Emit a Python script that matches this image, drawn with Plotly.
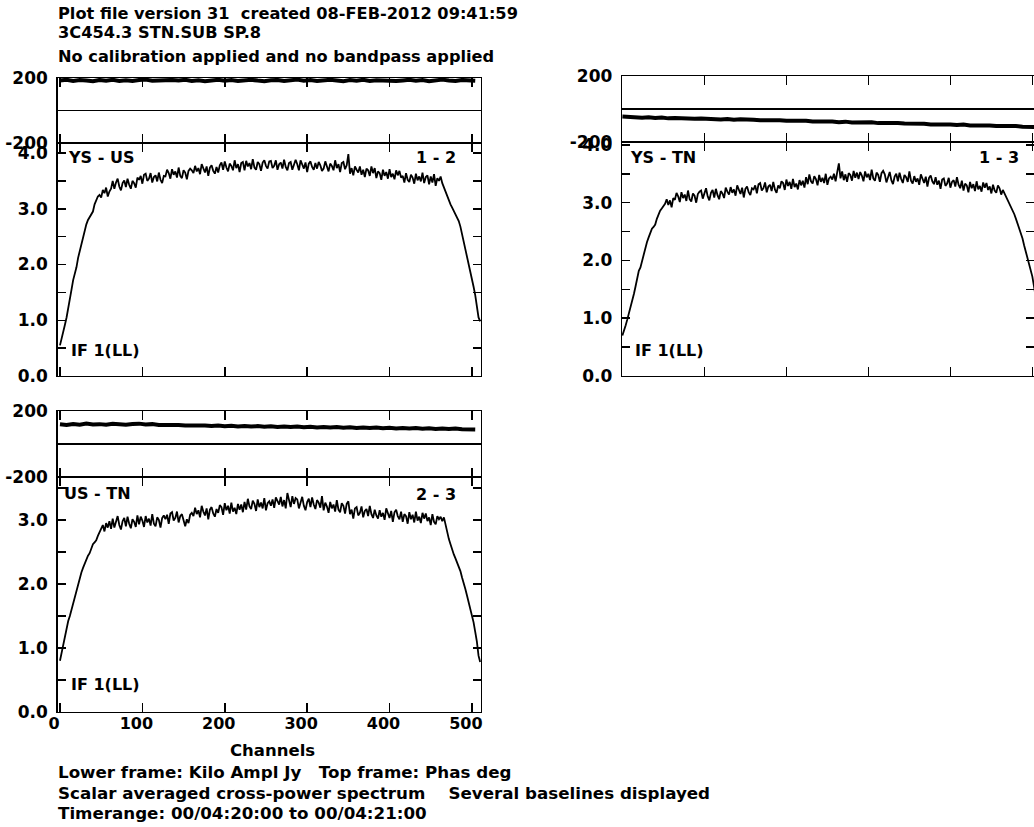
import plotly.graph_objects as go

# ---------------- data ----------------
channels_amp = list(range(0, 512, 2))
channels_ph = list(range(0, 512, 8))
x_tick_vals = [0, 100, 200, 300, 400, 500]

amp_12 = [0.55, 0.66, 0.80, 0.92, 1.05, 1.20, 1.35, 1.55, 1.72, 1.82, 1.95, 2.12, 2.25, 2.38, 2.50, 2.62,
          2.72, 2.80, 2.85, 2.92, 2.95, 3.08, 3.15, 3.22, 3.25, 3.20, 3.34, 3.28, 3.38, 3.22, 3.31, 3.36,
          3.50, 3.36, 3.47, 3.54, 3.40, 3.33, 3.46, 3.51, 3.39, 3.54, 3.43, 3.36, 3.50, 3.46, 3.38, 3.56,
          3.52, 3.59, 3.45, 3.61, 3.63, 3.50, 3.54, 3.64, 3.47, 3.57, 3.60, 3.49, 3.65, 3.52, 3.46, 3.59,
          3.58, 3.70, 3.64, 3.54, 3.71, 3.61, 3.67, 3.56, 3.74, 3.59, 3.55, 3.69, 3.65, 3.53, 3.68, 3.72,
          3.69, 3.64, 3.77, 3.67, 3.73, 3.62, 3.80, 3.71, 3.65, 3.76, 3.59, 3.74, 3.78, 3.68, 3.63, 3.75,
          3.65, 3.78, 3.83, 3.70, 3.85, 3.74, 3.67, 3.81, 3.77, 3.69, 3.87, 3.73, 3.80, 3.66, 3.82, 3.84,
          3.69, 3.86, 3.76, 3.82, 3.71, 3.89, 3.74, 3.70, 3.84, 3.80, 3.68, 3.83, 3.87, 3.77, 3.72, 3.85,
          3.86, 3.73, 3.77, 3.87, 3.70, 3.80, 3.83, 3.72, 3.88, 3.75, 3.69, 3.82, 3.84, 3.70, 3.81, 3.88,
          3.80, 3.69, 3.87, 3.78, 3.72, 3.83, 3.66, 3.81, 3.85, 3.75, 3.70, 3.82, 3.72, 3.84, 3.78, 3.68,
          3.72, 3.85, 3.74, 3.67, 3.81, 3.77, 3.69, 3.87, 3.73, 3.80, 3.66, 3.82, 3.84, 3.71, 3.78, 3.98,
          3.63, 3.73, 3.60, 3.76, 3.70, 3.65, 3.76, 3.61, 3.70, 3.57, 3.72, 3.69, 3.59, 3.76, 3.64, 3.73,
          3.55, 3.67, 3.64, 3.52, 3.70, 3.59, 3.66, 3.54, 3.71, 3.57, 3.63, 3.53, 3.69, 3.60, 3.68, 3.56,
          3.59, 3.47, 3.64, 3.52, 3.48, 3.61, 3.56, 3.45, 3.63, 3.51, 3.58, 3.49, 3.65, 3.46, 3.57, 3.60,
          3.44, 3.58, 3.47, 3.62, 3.41, 3.55, 3.50, 3.58, 3.46, 3.38, 3.30, 3.22, 3.15, 3.08, 3.02, 2.96,
          2.90, 2.84, 2.78, 2.68, 2.55, 2.42, 2.30, 2.15, 2.00, 1.88, 1.75, 1.60, 1.45, 1.25, 1.05, 0.98]

amp_13 = [0.70, 0.78, 0.88, 0.98, 1.08, 1.18, 1.30, 1.42, 1.55, 1.70, 1.82, 1.88, 2.00, 2.12, 2.25, 2.32,
          2.40, 2.48, 2.55, 2.58, 2.62, 2.72, 2.80, 2.86, 2.90, 2.94, 2.98, 3.06, 2.96, 3.04, 2.92, 3.08,
          3.05, 3.17, 3.11, 3.01, 3.18, 3.08, 3.14, 3.03, 3.21, 3.06, 3.02, 3.16, 3.12, 3.00, 3.15, 3.19,
          3.21, 3.07, 3.18, 3.25, 3.11, 3.04, 3.17, 3.22, 3.09, 3.24, 3.13, 3.06, 3.20, 3.16, 3.08, 3.26,
          3.19, 3.14, 3.27, 3.17, 3.23, 3.12, 3.30, 3.21, 3.15, 3.26, 3.09, 3.24, 3.28, 3.18, 3.13, 3.25,
          3.23, 3.30, 3.16, 3.32, 3.34, 3.21, 3.25, 3.35, 3.18, 3.28, 3.31, 3.20, 3.36, 3.23, 3.17, 3.30,
          3.25, 3.37, 3.34, 3.22, 3.40, 3.29, 3.36, 3.24, 3.41, 3.27, 3.33, 3.23, 3.39, 3.30, 3.38, 3.26,
          3.44, 3.32, 3.49, 3.37, 3.33, 3.46, 3.41, 3.30, 3.48, 3.36, 3.43, 3.34, 3.50, 3.31, 3.42, 3.45,
          3.40, 3.50, 3.37, 3.53, 3.68, 3.42, 3.54, 3.39, 3.49, 3.36, 3.51, 3.48, 3.38, 3.55, 3.43, 3.52,
          3.41, 3.53, 3.47, 3.37, 3.54, 3.44, 3.50, 3.39, 3.57, 3.42, 3.38, 3.52, 3.48, 3.36, 3.51, 3.55,
          3.49, 3.35, 3.46, 3.53, 3.39, 3.32, 3.45, 3.50, 3.37, 3.52, 3.41, 3.34, 3.48, 3.44, 3.36, 3.54,
          3.38, 3.33, 3.46, 3.36, 3.42, 3.31, 3.49, 3.40, 3.34, 3.45, 3.28, 3.43, 3.47, 3.37, 3.32, 3.44,
          3.31, 3.38, 3.24, 3.40, 3.42, 3.29, 3.33, 3.43, 3.26, 3.36, 3.39, 3.28, 3.44, 3.31, 3.25, 3.38,
          3.21, 3.33, 3.30, 3.18, 3.36, 3.25, 3.32, 3.20, 3.37, 3.23, 3.29, 3.19, 3.35, 3.26, 3.34, 3.22,
          3.28, 3.16, 3.31, 3.21, 3.17, 3.30, 3.25, 3.14, 3.22, 3.16, 3.10, 3.05, 3.00, 2.94, 2.88, 2.80,
          2.72, 2.64, 2.55, 2.46, 2.38, 2.26, 2.15, 2.05, 1.95, 1.84, 1.72, 1.55, 1.35, 1.15, 0.95, 0.85]

amp_23 = [0.80, 0.92, 1.05, 1.20, 1.33, 1.42, 1.50, 1.60, 1.70, 1.82, 1.92, 2.02, 2.10, 2.18, 2.25, 2.32,
          2.40, 2.44, 2.48, 2.55, 2.62, 2.65, 2.68, 2.75, 2.80, 2.86, 2.92, 2.82, 2.95, 2.88, 2.98, 2.86,
          3.02, 2.88, 2.99, 3.06, 2.92, 2.85, 2.98, 3.03, 2.90, 3.05, 2.94, 2.87, 3.01, 2.97, 2.89, 3.07,
          2.93, 3.05, 2.99, 2.89, 3.06, 2.96, 3.02, 2.91, 3.09, 2.94, 2.90, 3.04, 3.00, 2.88, 3.03, 3.07,
          3.01, 3.08, 2.94, 3.10, 3.12, 2.99, 3.03, 3.13, 2.96, 3.06, 3.09, 2.98, 2.90, 3.01, 2.95, 3.08,
          3.11, 3.06, 3.19, 3.09, 3.15, 3.04, 3.22, 3.13, 3.07, 3.18, 3.01, 3.16, 3.20, 3.10, 3.05, 3.17,
          3.11, 3.23, 3.20, 3.08, 3.26, 3.15, 3.22, 3.10, 3.27, 3.13, 3.19, 3.09, 3.25, 3.16, 3.24, 3.12,
          3.28, 3.16, 3.33, 3.21, 3.17, 3.30, 3.25, 3.14, 3.32, 3.20, 3.27, 3.18, 3.34, 3.15, 3.26, 3.29,
          3.22, 3.32, 3.19, 3.35, 3.29, 3.24, 3.36, 3.21, 3.31, 3.18, 3.42, 3.30, 3.20, 3.37, 3.25, 3.34,
          3.32, 3.18, 3.29, 3.36, 3.22, 3.15, 3.28, 3.33, 3.20, 3.35, 3.24, 3.17, 3.31, 3.27, 3.19, 3.37,
          3.15, 3.27, 3.21, 3.11, 3.28, 3.18, 3.24, 3.13, 3.31, 3.16, 3.12, 3.26, 3.22, 3.10, 3.25, 3.29,
          3.09, 3.16, 3.02, 3.18, 3.20, 3.07, 3.11, 3.21, 3.04, 3.14, 3.17, 3.06, 3.22, 3.09, 3.03, 3.16,
          3.07, 3.02, 3.15, 3.05, 3.11, 3.00, 3.18, 3.09, 3.03, 3.14, 2.97, 3.12, 3.16, 3.06, 3.01, 3.13,
          2.97, 3.09, 3.06, 2.94, 3.12, 3.01, 3.08, 2.96, 3.13, 2.99, 3.05, 2.95, 3.11, 3.02, 3.10, 2.98,
          3.04, 2.92, 3.09, 2.97, 2.93, 3.06, 3.01, 3.05, 2.98, 3.04, 2.92, 2.80, 2.70, 2.62, 2.52, 2.46,
          2.40, 2.34, 2.28, 2.20, 2.10, 2.02, 1.92, 1.82, 1.72, 1.62, 1.50, 1.40, 1.25, 1.10, 0.88, 0.78]

ph_12 = [186, 190, 183, 188, 185, 181, 189, 184, 190, 183, 187, 182, 188, 191, 184, 186,
         182, 189, 185, 190, 183, 187, 181, 186, 190, 184, 188, 182, 186, 190, 185, 181,
         187, 189, 183, 186, 191, 184, 188, 182, 185, 190, 186, 181, 188, 184, 190, 183,
         187, 185, 189, 182, 186, 190, 184, 188, 181, 187, 191, 185, 183, 189, 186, 184]

ph_13 = [-46, -50, -49, -53, -51, -55, -52, -57, -55, -58, -57, -60, -58, -62, -60, -64,
         -61, -66, -63, -67, -65, -68, -67, -71, -69, -72, -70, -74, -72, -76, -74, -78,
         -76, -80, -77, -82, -80, -84, -81, -86, -84, -88, -86, -89, -88, -92, -90, -94,
         -92, -96, -94, -98, -95, -100, -98, -102, -100, -104, -102, -106, -104, -108, -106, -110]

ph_23 = [120, 116, 122, 118, 124, 119, 121, 117, 123, 120, 118, 122, 124, 119, 121, 116,
         118, 114, 116, 112, 114, 110, 113, 109, 112, 108, 111, 107, 110, 106, 109, 105,
         108, 104, 107, 103, 106, 102, 105, 101, 104, 100, 103, 99, 102, 98, 101, 97,
         100, 96, 99, 95, 98, 94, 97, 93, 96, 92, 95, 91, 94, 90, 92, 88]

baselines = ["YS - US", "YS - TN", "US - TN"]
baseline_ids = ["1 - 2", "1 - 3", "2 - 3"]

title_lines = ["Plot file version 31  created 08-FEB-2012 09:41:59",
               "3C454.3 STN.SUB SP.8",
               "No calibration applied and no bandpass applied"]
footer_lines = ["Lower frame: Kilo Ampl Jy   Top frame: Phas deg",
                "Scalar averaged cross-power spectrum    Several baselines displayed",
                "Timerange: 00/04:20:00 to 00/04:21:00"]

# ---------------- layout helpers ----------------
W, H = 1034, 827
FONT = "DejaVu Sans, Verdana, sans-serif"


def px(x):
    return x / W


def py(y):
    return 1 - y / H


amp_tickvals = [0, 0.5, 1.0, 1.5, 2.0, 2.5, 3.0, 3.5, 4.0]
amp_ticktext = ["0.0", "", "1.0", "", "2.0", "", "3.0", "", "4.0"]

fig = go.Figure()

panels = [
    dict(ph=ph_12, amp=amp_12, xdom=(57.5, 481), phy=(78, 143), ampy=(143, 376),
         xr=(-3, 511), amax=4.18),
    dict(ph=ph_13, amp=amp_13, xdom=(622, 1034), phy=(76, 142), ampy=(142, 376),
         xr=(-0.5, 502), amax=4.05),
    dict(ph=ph_23, amp=amp_23, xdom=(57.5, 481), phy=(411, 477), ampy=(477, 712),
         xr=(-3, 511), amax=3.67),
]

layout = dict(width=W, height=H, margin=dict(l=0, r=0, t=0, b=0, pad=0, autoexpand=False),
              paper_bgcolor="white", plot_bgcolor="white", showlegend=False,
              font=dict(family=FONT, color="black", size=16, weight="bold"))

axis_line = dict(showline=True, linecolor="black", linewidth=1.3, showgrid=False,
                 automargin=False)
tick_font = dict(size=17, family=FONT, weight="bold", color="black")

for i, p in enumerate(panels):
    na = 2 * i + 1
    nb = 2 * i + 2
    sa = "" if na == 1 else str(na)
    sb = str(nb)
    fig.add_trace(go.Scatter(x=channels_ph, y=p["ph"], mode="lines",
                             line=dict(color="black", width=4),
                             xaxis="x" + sa, yaxis="y" + sa, hoverinfo="skip"))
    fig.add_trace(go.Scatter(x=channels_amp, y=p["amp"], mode="lines",
                             line=dict(color="black", width=1.8),
                             xaxis="x" + sb, yaxis="y" + sb, hoverinfo="skip"))
    xd = [px(p["xdom"][0]), min(1.0, px(p["xdom"][1]))]
    xcommon = dict(axis_line, domain=xd, range=list(p["xr"]), mirror="ticks",
                   ticks="inside", ticklen=9, tickwidth=1.5, tickcolor="black",
                   tickvals=x_tick_vals, zeroline=False, showticklabels=False)
    layout["xaxis" + sa] = dict(xcommon, anchor="y" + sa)
    xb = dict(xcommon, anchor="y" + sb)
    if i == 2:
        xb.update(showticklabels=True,
                  ticktext=[str(v) for v in x_tick_vals],
                  tickfont=dict(tick_font, size=16),
                  ticklabelshift=-6, ticklabelstandoff=-4)
    layout["xaxis" + sb] = xb
    layout["yaxis" + sa] = dict(axis_line, anchor="x" + sa,
                                domain=[py(p["phy"][1]), py(p["phy"][0])],
                                range=[-201, 201], mirror=True,
                                tickvals=[-200, 200], ticktext=["-200", "200"], ticks="",
                                zeroline=True, zerolinecolor="black", zerolinewidth=1.2,
                                tickfont=tick_font, ticklabelstandoff=5)
    layout["yaxis" + sb] = dict(axis_line, anchor="x" + sb,
                                domain=[py(p["ampy"][1]), py(p["ampy"][0])],
                                range=[0, p["amax"]], mirror="ticks",
                                ticks="inside", ticklen=8, tickwidth=1.5, tickcolor="black",
                                tickvals=amp_tickvals, ticktext=amp_ticktext, zeroline=False,
                                tickfont=tick_font, ticklabelstandoff=5)

fig.update_layout(**layout)

annots = []


def add_text(text, x, y, xanchor="left", size=16.0):
    annots.append(dict(text=text, x=px(x), y=py(y), xref="paper", yref="paper",
                       xanchor=xanchor, yanchor="middle", showarrow=False,
                       font=dict(size=size, family=FONT, weight="bold", color="black")))


for t, yy in zip(title_lines, [13, 33, 57]):
    add_text(t, 56, yy, size=16.2)
add_text("Channels", 272, 750, size=16.5, xanchor="center")
for t, yy in zip(footer_lines, [772, 793, 813]):
    add_text(t, 56, yy, size=16.7)

add_text(baselines[0], 66, 158)
add_text(baseline_ids[0], 458, 158, xanchor="right")
add_text("IF 1(LL)", 69, 350)
add_text(baselines[1], 628, 158)
add_text(baseline_ids[1], 1021, 158, xanchor="right")
add_text("IF 1(LL)", 633, 350)
add_text(baselines[2], 62, 493)
add_text(baseline_ids[2], 458, 494, xanchor="right")
add_text("IF 1(LL)", 69, 684)

fig.update_layout(annotations=annots)
fig.write_html("out.html", config={"displayModeBar": False, "staticPlot": True},
               post_script="document.body.style.margin='0';document.body.style.padding='0';")
